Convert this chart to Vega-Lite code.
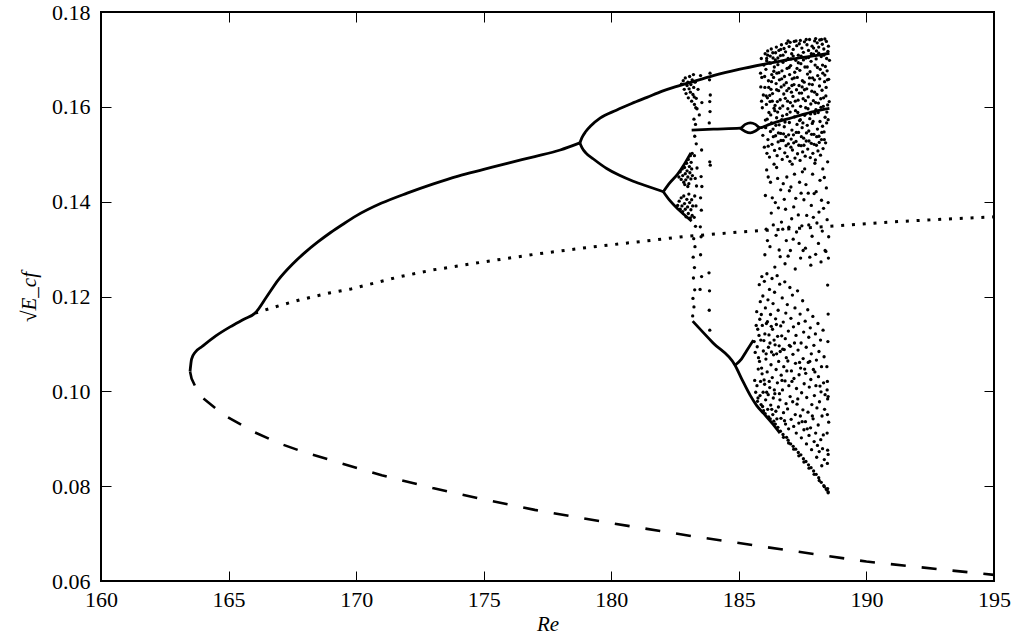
{
"$schema": "https://vega.github.io/schema/vega-lite/v6.json",
"width": 893, "height": 569,
"autosize": "none",
"padding": {"left": 101, "top": 12, "right": 19, "bottom": 55},
"background": "white",
"config": {
 "view": {"stroke": "black", "strokeWidth": 2},
 "axis": {"domain": false, "grid": false, "labelFont": "Liberation Serif", "labelFontSize": 22, "labelColor": "black", "tickColor": "black", "tickWidth": 1, "titleFont": "Liberation Serif", "titleFontSize": 21, "titleColor": "black", "titleFontWeight": "normal", "labelFlush": false, "labelOverlap": false}
},
"datasets": {
"lines": [
{"s":"dash","x":163.49,"y":0.1042},{"s":"dash","x":163.55,"y":0.1027},{"s":"dash","x":163.85,"y":0.0992},{"s":"dash","x":164.82,"y":0.0950},{"s":"dash","x":165.97,"y":0.0915},{"s":"dash","x":167,"y":0.0890},{"s":"dash","x":168,"y":0.0871},{"s":"dash","x":169.43,"y":0.0848},{"s":"dash","x":171,"y":0.0823},{"s":"dash","x":173,"y":0.0796},{"s":"dash","x":175,"y":0.0772},{"s":"dash","x":177,"y":0.0750},{"s":"dash","x":180,"y":0.0722},{"s":"dash","x":183,"y":0.0696},{"s":"dash","x":186,"y":0.0672},{"s":"dash","x":190,"y":0.0641},{"s":"dash","x":193,"y":0.0624},{"s":"dash","x":195,"y":0.0613},
{"s":"dot","x":166.04,"y":0.1165},{"s":"dot","x":167,"y":0.1181},{"s":"dot","x":167.8,"y":0.1193},{"s":"dot","x":169,"y":0.1208},{"s":"dot","x":169.8,"y":0.1216},{"s":"dot","x":171.72,"y":0.1242},{"s":"dot","x":173,"y":0.1256},{"s":"dot","x":175,"y":0.1273},{"s":"dot","x":177,"y":0.1289},{"s":"dot","x":179,"y":0.1303},{"s":"dot","x":181,"y":0.1315},{"s":"dot","x":182.8,"y":0.1326},{"s":"dot","x":185,"y":0.1336},{"s":"dot","x":188.3,"y":0.1347},{"s":"dot","x":191.24,"y":0.1358},{"s":"dot","x":193,"y":0.1363},{"s":"dot","x":195,"y":0.1368},
{"s":"main","x":163.49,"y":0.1042},{"s":"main","x":163.55,"y":0.1068},{"s":"main","x":163.7,"y":0.1083},{"s":"main","x":163.95,"y":0.1094},{"s":"main","x":164.5,"y":0.1117},{"s":"main","x":165.06,"y":0.1136},{"s":"main","x":165.6,"y":0.1152},{"s":"main","x":166.04,"y":0.1165},{"s":"main","x":166.5,"y":0.1200},{"s":"main","x":166.95,"y":0.1235},{"s":"main","x":167.5,"y":0.1268},{"s":"main","x":168,"y":0.1293},{"s":"main","x":168.5,"y":0.1315},{"s":"main","x":169,"y":0.1335},{"s":"main","x":169.5,"y":0.1353},{"s":"main","x":170,"y":0.1370},{"s":"main","x":171,"y":0.1397},{"s":"main","x":172,"y":0.1418},{"s":"main","x":173,"y":0.1437},{"s":"main","x":174,"y":0.1454},{"s":"main","x":175,"y":0.1468},{"s":"main","x":176,"y":0.1482},{"s":"main","x":177,"y":0.1495},{"s":"main","x":178,"y":0.1509},{"s":"main","x":178.77,"y":0.1524},
{"s":"A","x":178.77,"y":0.1524},{"s":"A","x":178.85,"y":0.1535},{"s":"A","x":179.0,"y":0.1548},{"s":"A","x":179.2,"y":0.1560},{"s":"A","x":179.56,"y":0.1576},{"s":"A","x":180.2,"y":0.1593},{"s":"A","x":180.8,"y":0.1607},{"s":"A","x":181.4,"y":0.1620},{"s":"A","x":182,"y":0.1633},{"s":"A","x":182.5,"y":0.1642},{"s":"A","x":183,"y":0.1650},{"s":"A","x":184,"y":0.1666},{"s":"A","x":185,"y":0.1679},{"s":"A","x":186,"y":0.1690},{"s":"A","x":187,"y":0.1700},{"s":"A","x":188,"y":0.1708},{"s":"A","x":188.55,"y":0.1713},
{"s":"B","x":178.77,"y":0.1524},{"s":"B","x":178.85,"y":0.1514},{"s":"B","x":179.0,"y":0.1503},{"s":"B","x":179.3,"y":0.1490},{"s":"B","x":179.82,"y":0.1470},{"s":"B","x":180.3,"y":0.1456},{"s":"B","x":180.86,"y":0.1443},{"s":"B","x":181.5,"y":0.1431},{"s":"B","x":182.04,"y":0.1421},
{"s":"B1","x":182.04,"y":0.1421},{"s":"B1","x":182.3,"y":0.1440},{"s":"B1","x":182.6,"y":0.1458},{"s":"B1","x":182.85,"y":0.1478},{"s":"B1","x":183.12,"y":0.1503},
{"s":"B2","x":182.04,"y":0.1421},{"s":"B2","x":182.3,"y":0.1402},{"s":"B2","x":182.6,"y":0.1385},{"s":"B2","x":182.85,"y":0.1373},{"s":"B2","x":183.15,"y":0.1359},
{"s":"C","x":183.15,"y":0.1551},{"s":"C","x":184,"y":0.1553},{"s":"C","x":185.05,"y":0.1555},{"s":"C","x":185.25,"y":0.1563},{"s":"C","x":185.45,"y":0.1566},{"s":"C","x":185.65,"y":0.1563},{"s":"C","x":185.83,"y":0.1556},{"s":"C","x":186.2,"y":0.1563},{"s":"C","x":186.8,"y":0.1573},{"s":"C","x":187.4,"y":0.1582},{"s":"C","x":188,"y":0.1591},{"s":"C","x":188.55,"y":0.1597},
{"s":"C2","x":185.05,"y":0.1555},{"s":"C2","x":185.25,"y":0.1548},{"s":"C2","x":185.45,"y":0.1545},{"s":"C2","x":185.65,"y":0.1549},{"s":"C2","x":185.83,"y":0.1556},
{"s":"D","x":183.19,"y":0.1148},{"s":"D","x":183.99,"y":0.1102},{"s":"D","x":184.85,"y":0.1055},{"s":"D","x":185.15,"y":0.1022},{"s":"D","x":185.44,"y":0.0992},{"s":"D","x":185.7,"y":0.0970},{"s":"D","x":185.96,"y":0.0954},{"s":"D","x":186.3,"y":0.0933},{"s":"D","x":186.61,"y":0.0912},
{"s":"D1","x":184.85,"y":0.1055},{"s":"D1","x":185.1,"y":0.1068},{"s":"D1","x":185.3,"y":0.1085},{"s":"D1","x":185.57,"y":0.1108}
],
"pts": [
{"x":185.92,"y":0.1598},{"x":185.96,"y":0.1625},{"x":185.9,"y":0.1662},{"x":185.98,"y":0.1688},{"x":185.94,"y":0.1540},
{"x":185.85,"y":0.1671},{"x":185.88,"y":0.1702},{"x":185.86,"y":0.1642},{"x":185.89,"y":0.1612},
{"x":186.0,"y":0.1515},{"x":186.04,"y":0.1572},{"x":186.08,"y":0.1605},{"x":186.02,"y":0.1641},{"x":186.06,"y":0.1679},{"x":186.09,"y":0.1702},{"x":186.03,"y":0.1712},
{"x":186.1,"y":0.1502},{"x":186.14,"y":0.1531},{"x":186.18,"y":0.1588},{"x":186.12,"y":0.1619},{"x":186.16,"y":0.1655},{"x":186.19,"y":0.1693},{"x":186.13,"y":0.1718},
{"x":186.2,"y":0.1494},{"x":186.24,"y":0.1548},{"x":186.28,"y":0.1566},{"x":186.22,"y":0.1611},{"x":186.26,"y":0.1637},{"x":186.29,"y":0.1668},{"x":186.23,"y":0.1707},{"x":186.27,"y":0.1722},
{"x":186.3,"y":0.1521},{"x":186.34,"y":0.1553},{"x":186.38,"y":0.1597},{"x":186.32,"y":0.1628},{"x":186.36,"y":0.1662},{"x":186.39,"y":0.1684},{"x":186.33,"y":0.1714},
{"x":186.4,"y":0.1508},{"x":186.44,"y":0.1539},{"x":186.48,"y":0.1577},{"x":186.42,"y":0.1603},{"x":186.46,"y":0.1649},{"x":186.49,"y":0.1671},{"x":186.43,"y":0.1699},{"x":186.47,"y":0.1726},
{"x":186.5,"y":0.1497},{"x":186.54,"y":0.1526},{"x":186.58,"y":0.1562},{"x":186.52,"y":0.1589},{"x":186.56,"y":0.1634},{"x":186.59,"y":0.1657},{"x":186.53,"y":0.1689},{"x":186.57,"y":0.1719},
{"x":186.6,"y":0.1512},{"x":186.64,"y":0.1544},{"x":186.68,"y":0.1573},{"x":186.62,"y":0.1615},{"x":186.66,"y":0.1642},{"x":186.69,"y":0.1676},{"x":186.63,"y":0.1708},{"x":186.67,"y":0.1731},
{"x":186.7,"y":0.1489},{"x":186.74,"y":0.1529},{"x":186.78,"y":0.1558},{"x":186.72,"y":0.1602},{"x":186.76,"y":0.1627},{"x":186.79,"y":0.1664},{"x":186.73,"y":0.1694},{"x":186.77,"y":0.1723},
{"x":186.8,"y":0.1503},{"x":186.84,"y":0.1537},{"x":186.88,"y":0.1584},{"x":186.82,"y":0.1618},{"x":186.86,"y":0.1651},{"x":186.89,"y":0.1681},{"x":186.83,"y":0.1716},{"x":186.87,"y":0.1734},
{"x":186.9,"y":0.1495},{"x":186.94,"y":0.1522},{"x":186.98,"y":0.1567},{"x":186.92,"y":0.1596},{"x":186.96,"y":0.1639},{"x":186.99,"y":0.1668},{"x":186.93,"y":0.1702},{"x":186.97,"y":0.1727},
{"x":187.0,"y":0.1485},{"x":187.04,"y":0.1515},{"x":187.08,"y":0.1551},{"x":187.02,"y":0.1609},{"x":187.06,"y":0.1631},{"x":187.09,"y":0.1659},{"x":187.03,"y":0.1687},{"x":187.07,"y":0.1712},{"x":187.01,"y":0.1736},
{"x":187.1,"y":0.1509},{"x":187.14,"y":0.1541},{"x":187.18,"y":0.1579},{"x":187.12,"y":0.1622},{"x":187.16,"y":0.1647},{"x":187.19,"y":0.1673},{"x":187.13,"y":0.1721},{"x":187.17,"y":0.1738},
{"x":187.2,"y":0.1492},{"x":187.24,"y":0.1527},{"x":187.28,"y":0.1563},{"x":187.22,"y":0.1592},{"x":187.26,"y":0.1636},{"x":187.29,"y":0.1662},{"x":187.23,"y":0.1698},{"x":187.27,"y":0.1729},
{"x":187.3,"y":0.1501},{"x":187.34,"y":0.1546},{"x":187.38,"y":0.1571},{"x":187.32,"y":0.1614},{"x":187.36,"y":0.1645},{"x":187.39,"y":0.1677},{"x":187.33,"y":0.1709},{"x":187.37,"y":0.1733},
{"x":187.4,"y":0.1487},{"x":187.44,"y":0.1518},{"x":187.48,"y":0.1556},{"x":187.42,"y":0.1601},{"x":187.46,"y":0.1629},{"x":187.49,"y":0.1655},{"x":187.43,"y":0.1691},{"x":187.47,"y":0.1724},{"x":187.41,"y":0.1740},
{"x":187.5,"y":0.1505},{"x":187.54,"y":0.1534},{"x":187.58,"y":0.1582},{"x":187.52,"y":0.1617},{"x":187.56,"y":0.1652},{"x":187.59,"y":0.1684},{"x":187.53,"y":0.1715},{"x":187.57,"y":0.1737},
{"x":187.6,"y":0.1496},{"x":187.64,"y":0.1528},{"x":187.68,"y":0.1561},{"x":187.62,"y":0.1598},{"x":187.66,"y":0.1638},{"x":187.69,"y":0.1669},{"x":187.63,"y":0.1703},{"x":187.67,"y":0.1731},
{"x":187.7,"y":0.1511},{"x":187.74,"y":0.1549},{"x":187.78,"y":0.1575},{"x":187.72,"y":0.1621},{"x":187.76,"y":0.1648},{"x":187.79,"y":0.1674},{"x":187.73,"y":0.1719},{"x":187.77,"y":0.1742},
{"x":187.8,"y":0.1493},{"x":187.84,"y":0.1523},{"x":187.88,"y":0.1565},{"x":187.82,"y":0.1606},{"x":187.86,"y":0.1633},{"x":187.89,"y":0.1661},{"x":187.83,"y":0.1696},{"x":187.87,"y":0.1728},
{"x":187.9,"y":0.1502},{"x":187.94,"y":0.1542},{"x":187.98,"y":0.1586},{"x":187.92,"y":0.1613},{"x":187.96,"y":0.1657},{"x":187.99,"y":0.1688},{"x":187.93,"y":0.1711},{"x":187.97,"y":0.1739},
{"x":188.0,"y":0.1488},{"x":188.04,"y":0.1519},{"x":188.08,"y":0.1553},{"x":188.02,"y":0.1594},{"x":188.06,"y":0.1626},{"x":188.09,"y":0.1666},{"x":188.03,"y":0.1701},{"x":188.07,"y":0.1735},{"x":188.01,"y":0.1744},
{"x":188.1,"y":0.1507},{"x":188.14,"y":0.1538},{"x":188.18,"y":0.1569},{"x":188.12,"y":0.1608},{"x":188.16,"y":0.1644},{"x":188.19,"y":0.1679},{"x":188.13,"y":0.1713},{"x":188.17,"y":0.1741},
{"x":188.2,"y":0.1498},{"x":188.24,"y":0.1531},{"x":188.28,"y":0.1559},{"x":188.22,"y":0.1599},{"x":188.26,"y":0.1635},{"x":188.29,"y":0.1671},{"x":188.23,"y":0.1706},{"x":188.27,"y":0.1732},
{"x":188.3,"y":0.1512},{"x":188.34,"y":0.1547},{"x":188.38,"y":0.1578},{"x":188.32,"y":0.1619},{"x":188.36,"y":0.1653},{"x":188.39,"y":0.1685},{"x":188.33,"y":0.1722},{"x":188.37,"y":0.1743},
{"x":188.4,"y":0.1524},{"x":188.44,"y":0.1566},{"x":188.48,"y":0.1604},{"x":188.42,"y":0.1641},{"x":188.46,"y":0.1676},{"x":188.49,"y":0.1717},{"x":188.43,"y":0.1738},
{"x":188.5,"y":0.1573},{"x":188.54,"y":0.1611},{"x":188.52,"y":0.1658},{"x":188.55,"y":0.1698},{"x":188.51,"y":0.1728},
{"x":186.05,"y":0.1556},{"x":186.07,"y":0.1623},{"x":186.01,"y":0.1664},{"x":186.09,"y":0.1697},
{"x":186.15,"y":0.1517},{"x":186.11,"y":0.1574},{"x":186.17,"y":0.1641},{"x":186.13,"y":0.1709},
{"x":186.25,"y":0.1583},{"x":186.21,"y":0.1624},{"x":186.28,"y":0.1653},{"x":186.24,"y":0.1692},
{"x":186.35,"y":0.1537},{"x":186.31,"y":0.1612},{"x":186.37,"y":0.1675},{"x":186.34,"y":0.1703},
{"x":186.45,"y":0.1561},{"x":186.41,"y":0.1592},{"x":186.48,"y":0.1636},{"x":186.44,"y":0.1714},
{"x":186.55,"y":0.1545},{"x":186.51,"y":0.1611},{"x":186.57,"y":0.1672},{"x":186.53,"y":0.1703},
{"x":186.65,"y":0.1529},{"x":186.61,"y":0.1597},{"x":186.68,"y":0.1659},{"x":186.64,"y":0.1721},
{"x":186.75,"y":0.1543},{"x":186.71,"y":0.1581},{"x":186.77,"y":0.1646},{"x":186.73,"y":0.1709},
{"x":186.85,"y":0.1518},{"x":186.81,"y":0.1568},{"x":186.88,"y":0.1634},{"x":186.84,"y":0.1698},
{"x":186.95,"y":0.1541},{"x":186.91,"y":0.1612},{"x":186.97,"y":0.1683},{"x":186.93,"y":0.1739},
{"x":187.05,"y":0.1532},{"x":187.01,"y":0.1589},{"x":187.08,"y":0.1645},{"x":187.04,"y":0.1701},
{"x":187.15,"y":0.1524},{"x":187.11,"y":0.1602},{"x":187.17,"y":0.1661},{"x":187.13,"y":0.1707},
{"x":187.25,"y":0.1546},{"x":187.21,"y":0.1612},{"x":187.28,"y":0.1681},{"x":187.24,"y":0.1739},
{"x":187.35,"y":0.1519},{"x":187.31,"y":0.1588},{"x":187.37,"y":0.1629},{"x":187.33,"y":0.1693},
{"x":187.45,"y":0.1537},{"x":187.41,"y":0.1573},{"x":187.48,"y":0.1642},{"x":187.44,"y":0.1707},
{"x":187.55,"y":0.1519},{"x":187.51,"y":0.1566},{"x":187.57,"y":0.1636},{"x":187.53,"y":0.1699},
{"x":187.65,"y":0.1545},{"x":187.61,"y":0.1613},{"x":187.68,"y":0.1684},{"x":187.64,"y":0.1742},
{"x":187.75,"y":0.1528},{"x":187.71,"y":0.1596},{"x":187.77,"y":0.1661},{"x":187.73,"y":0.1704},
{"x":187.85,"y":0.1542},{"x":187.81,"y":0.1585},{"x":187.88,"y":0.1647},{"x":187.84,"y":0.1712},
{"x":187.95,"y":0.1521},{"x":187.91,"y":0.1569},{"x":187.97,"y":0.1631},{"x":187.93,"y":0.1724},
{"x":188.05,"y":0.1537},{"x":188.01,"y":0.1609},{"x":188.08,"y":0.1683},{"x":188.04,"y":0.1718},
{"x":188.15,"y":0.1525},{"x":188.11,"y":0.1588},{"x":188.17,"y":0.1659},{"x":188.13,"y":0.1726},
{"x":188.25,"y":0.1546},{"x":188.21,"y":0.1617},{"x":188.28,"y":0.1688},{"x":188.24,"y":0.1742},
{"x":188.35,"y":0.1531},{"x":188.31,"y":0.1601},{"x":188.37,"y":0.1667},{"x":188.33,"y":0.1709},
{"x":188.45,"y":0.1589},{"x":188.41,"y":0.1623},{"x":188.47,"y":0.1657},{"x":188.44,"y":0.1702},
{"x":186.02,"y":0.1288},{"x":186.07,"y":0.1342},{"x":186.04,"y":0.1413},{"x":186.09,"y":0.1467},
{"x":186.22,"y":0.1305},{"x":186.27,"y":0.1376},{"x":186.24,"y":0.1441},
{"x":186.41,"y":0.1262},{"x":186.46,"y":0.1329},{"x":186.43,"y":0.1398},{"x":186.48,"y":0.1472},
{"x":186.62,"y":0.1284},{"x":186.67,"y":0.1357},{"x":186.64,"y":0.1425},
{"x":186.81,"y":0.1269},{"x":186.86,"y":0.1318},{"x":186.83,"y":0.1384},{"x":186.88,"y":0.1452},
{"x":187.02,"y":0.1297},{"x":187.07,"y":0.1364},{"x":187.04,"y":0.1431},{"x":187.09,"y":0.1479},
{"x":187.21,"y":0.1258},{"x":187.26,"y":0.1336},{"x":187.23,"y":0.1407},
{"x":187.42,"y":0.1281},{"x":187.47,"y":0.1349},{"x":187.44,"y":0.1418},{"x":187.49,"y":0.1463},
{"x":187.61,"y":0.1302},{"x":187.66,"y":0.1371},{"x":187.63,"y":0.1436},
{"x":187.82,"y":0.1266},{"x":187.87,"y":0.1327},{"x":187.84,"y":0.1392},{"x":187.89,"y":0.1458},
{"x":188.01,"y":0.1289},{"x":188.06,"y":0.1355},{"x":188.03,"y":0.1421},
{"x":188.22,"y":0.1273},{"x":188.27,"y":0.1338},{"x":188.24,"y":0.1403},{"x":188.29,"y":0.1469},
{"x":188.41,"y":0.1295},{"x":188.46,"y":0.1362},{"x":188.43,"y":0.1429},{"x":188.48,"y":0.1484},
{"x":186.31,"y":0.1408},{"x":186.55,"y":0.1387},{"x":186.74,"y":0.1438},{"x":186.96,"y":0.1346},{"x":187.15,"y":0.1389},{"x":187.36,"y":0.1312},{"x":187.55,"y":0.1404},{"x":187.74,"y":0.1351},{"x":187.95,"y":0.1417},{"x":188.14,"y":0.1378},{"x":188.35,"y":0.1451},{"x":188.52,"y":0.1326},{"x":188.5,"y":0.1398},
{"x":186.12,"y":0.1318},{"x":186.15,"y":0.1452},{"x":186.35,"y":0.1351},{"x":186.38,"y":0.1479},{"x":186.58,"y":0.1298},{"x":186.52,"y":0.1449},{"x":186.72,"y":0.1342},{"x":186.78,"y":0.1405},{"x":186.93,"y":0.1285},{"x":186.98,"y":0.1423},{"x":187.13,"y":0.1321},{"x":187.18,"y":0.1458},{"x":187.33,"y":0.1372},{"x":187.38,"y":0.1441},{"x":187.52,"y":0.1297},{"x":187.58,"y":0.1469},{"x":187.72,"y":0.1418},{"x":187.78,"y":0.1283},{"x":187.92,"y":0.1367},{"x":187.98,"y":0.1481},{"x":188.12,"y":0.1312},{"x":188.18,"y":0.1445},{"x":188.32,"y":0.1386},{"x":188.38,"y":0.1297},
{"x":185.6,"y":0.1105},{"x":185.64,"y":0.1082},{"x":185.62,"y":0.1023},{"x":185.66,"y":0.0998},
{"x":185.7,"y":0.1168},{"x":185.74,"y":0.1131},{"x":185.72,"y":0.1094},{"x":185.76,"y":0.1047},{"x":185.71,"y":0.1012},{"x":185.75,"y":0.0986},{"x":185.73,"y":0.0979},
{"x":185.8,"y":0.1225},{"x":185.84,"y":0.1189},{"x":185.82,"y":0.1152},{"x":185.86,"y":0.1108},{"x":185.81,"y":0.1063},{"x":185.85,"y":0.1021},{"x":185.83,"y":0.0991},{"x":185.87,"y":0.0972},
{"x":185.9,"y":0.1242},{"x":185.94,"y":0.1201},{"x":185.92,"y":0.1139},{"x":185.96,"y":0.1085},{"x":185.91,"y":0.1037},{"x":185.95,"y":0.0998},{"x":185.93,"y":0.0968},{"x":185.97,"y":0.0959},
{"x":186.0,"y":0.1232},{"x":186.04,"y":0.1176},{"x":186.02,"y":0.1121},{"x":186.06,"y":0.1068},{"x":186.01,"y":0.1015},{"x":186.05,"y":0.0982},{"x":186.03,"y":0.0953},
{"x":186.1,"y":0.1248},{"x":186.14,"y":0.1193},{"x":186.12,"y":0.1147},{"x":186.16,"y":0.1093},{"x":186.11,"y":0.1041},{"x":186.15,"y":0.0993},{"x":186.13,"y":0.0962},{"x":186.17,"y":0.0946},
{"x":186.2,"y":0.1215},{"x":186.24,"y":0.1162},{"x":186.22,"y":0.1102},{"x":186.26,"y":0.1056},{"x":186.21,"y":0.1008},{"x":186.25,"y":0.0971},{"x":186.23,"y":0.0942},
{"x":186.3,"y":0.1238},{"x":186.34,"y":0.1185},{"x":186.32,"y":0.1131},{"x":186.36,"y":0.1077},{"x":186.31,"y":0.1029},{"x":186.35,"y":0.0986},{"x":186.33,"y":0.0951},{"x":186.37,"y":0.0937},
{"x":186.4,"y":0.1209},{"x":186.44,"y":0.1153},{"x":186.42,"y":0.1098},{"x":186.46,"y":0.1046},{"x":186.41,"y":0.0995},{"x":186.45,"y":0.0958},{"x":186.43,"y":0.0931},
{"x":186.5,"y":0.1244},{"x":186.54,"y":0.1171},{"x":186.52,"y":0.1116},{"x":186.56,"y":0.1063},{"x":186.51,"y":0.1018},{"x":186.55,"y":0.0967},{"x":186.53,"y":0.0924},
{"x":186.6,"y":0.1226},{"x":186.64,"y":0.1138},{"x":186.62,"y":0.1084},{"x":186.66,"y":0.1034},{"x":186.61,"y":0.0982},{"x":186.65,"y":0.0943},{"x":186.63,"y":0.0916},
{"x":186.7,"y":0.1197},{"x":186.74,"y":0.1146},{"x":186.72,"y":0.1089},{"x":186.76,"y":0.1052},{"x":186.71,"y":0.1003},{"x":186.75,"y":0.0955},{"x":186.73,"y":0.0909},
{"x":186.8,"y":0.1231},{"x":186.84,"y":0.1165},{"x":186.82,"y":0.1111},{"x":186.86,"y":0.1071},{"x":186.81,"y":0.1022},{"x":186.85,"y":0.0974},{"x":186.83,"y":0.0931},{"x":186.87,"y":0.0903},
{"x":186.9,"y":0.1183},{"x":186.94,"y":0.1127},{"x":186.92,"y":0.1064},{"x":186.96,"y":0.1012},{"x":186.91,"y":0.0963},{"x":186.95,"y":0.0921},{"x":186.93,"y":0.0897},
{"x":187.0,"y":0.1219},{"x":187.04,"y":0.1154},{"x":187.02,"y":0.1095},{"x":187.06,"y":0.1043},{"x":187.01,"y":0.0989},{"x":187.05,"y":0.0941},{"x":187.03,"y":0.0889},
{"x":187.1,"y":0.1203},{"x":187.14,"y":0.1136},{"x":187.12,"y":0.1078},{"x":187.16,"y":0.1027},{"x":187.11,"y":0.0978},{"x":187.15,"y":0.0926},{"x":187.13,"y":0.0884},
{"x":187.2,"y":0.1176},{"x":187.24,"y":0.1118},{"x":187.22,"y":0.1059},{"x":187.26,"y":0.1006},{"x":187.21,"y":0.0951},{"x":187.25,"y":0.0912},{"x":187.23,"y":0.0878},
{"x":187.3,"y":0.1212},{"x":187.34,"y":0.1143},{"x":187.32,"y":0.1087},{"x":187.36,"y":0.1035},{"x":187.31,"y":0.0984},{"x":187.35,"y":0.0933},{"x":187.33,"y":0.0871},
{"x":187.4,"y":0.1163},{"x":187.44,"y":0.1102},{"x":187.42,"y":0.1049},{"x":187.46,"y":0.0997},{"x":187.41,"y":0.0948},{"x":187.45,"y":0.0902},{"x":187.43,"y":0.0866},
{"x":187.5,"y":0.1191},{"x":187.54,"y":0.1125},{"x":187.52,"y":0.1069},{"x":187.56,"y":0.1016},{"x":187.51,"y":0.0961},{"x":187.55,"y":0.0919},{"x":187.53,"y":0.0858},
{"x":187.6,"y":0.1148},{"x":187.64,"y":0.1093},{"x":187.62,"y":0.1038},{"x":187.66,"y":0.0987},{"x":187.61,"y":0.0936},{"x":187.65,"y":0.0889},{"x":187.63,"y":0.0852},
{"x":187.7,"y":0.1172},{"x":187.74,"y":0.1114},{"x":187.72,"y":0.1061},{"x":187.76,"y":0.1009},{"x":187.71,"y":0.0956},{"x":187.75,"y":0.0907},{"x":187.73,"y":0.0845},
{"x":187.8,"y":0.1134},{"x":187.84,"y":0.1079},{"x":187.82,"y":0.1025},{"x":187.86,"y":0.0972},{"x":187.81,"y":0.0923},{"x":187.85,"y":0.0877},{"x":187.83,"y":0.0839},
{"x":187.9,"y":0.1158},{"x":187.94,"y":0.1097},{"x":187.92,"y":0.1046},{"x":187.96,"y":0.0991},{"x":187.91,"y":0.0942},{"x":187.95,"y":0.0894},{"x":187.93,"y":0.0832},
{"x":188.0,"y":0.1121},{"x":188.04,"y":0.1066},{"x":188.02,"y":0.1012},{"x":188.06,"y":0.0965},{"x":188.01,"y":0.0912},{"x":188.05,"y":0.0861},{"x":188.03,"y":0.0825},
{"x":188.1,"y":0.1143},{"x":188.14,"y":0.1084},{"x":188.12,"y":0.1031},{"x":188.16,"y":0.0978},{"x":188.11,"y":0.0929},{"x":188.15,"y":0.0873},{"x":188.13,"y":0.0818},
{"x":188.2,"y":0.1108},{"x":188.24,"y":0.1052},{"x":188.22,"y":0.0999},{"x":188.26,"y":0.0948},{"x":188.21,"y":0.0898},{"x":188.25,"y":0.0843},{"x":188.23,"y":0.0808},
{"x":188.3,"y":0.1129},{"x":188.34,"y":0.1073},{"x":188.32,"y":0.1018},{"x":188.36,"y":0.0962},{"x":188.31,"y":0.0908},{"x":188.35,"y":0.0856},{"x":188.33,"y":0.0801},
{"x":188.45,"y":0.1052},{"x":188.47,"y":0.1021},{"x":188.46,"y":0.1003},{"x":188.48,"y":0.0984},{"x":188.47,"y":0.0951},{"x":188.46,"y":0.0912},{"x":188.48,"y":0.0876},{"x":188.47,"y":0.0848},{"x":188.42,"y":0.0794},
{"x":188.5,"y":0.0989},{"x":188.52,"y":0.0935},{"x":188.5,"y":0.0867},{"x":188.5,"y":0.0788},
{"x":186.75,"y":0.0903},{"x":186.95,"y":0.0891},{"x":187.15,"y":0.0878},{"x":187.35,"y":0.0864},{"x":187.55,"y":0.0851},{"x":187.75,"y":0.0838},{"x":187.95,"y":0.0825},{"x":188.15,"y":0.0812},{"x":188.35,"y":0.0799},{"x":188.45,"y":0.0792},{"x":188.48,"y":0.0795},{"x":188.5,"y":0.0786},
{"x":188.49,"y":0.1105},{"x":188.5,"y":0.1163},{"x":188.48,"y":0.1224},{"x":188.51,"y":0.1281},
{"x":185.68,"y":0.1139},{"x":185.77,"y":0.1071},{"x":185.79,"y":0.1118},{"x":185.88,"y":0.1162},{"x":185.89,"y":0.1049},{"x":185.98,"y":0.1107},{"x":185.99,"y":0.1024},{"x":186.08,"y":0.1143},{"x":186.09,"y":0.0998},{"x":186.07,"y":0.1079},{"x":186.18,"y":0.1119},{"x":186.19,"y":0.1021},{"x":186.28,"y":0.1083},{"x":186.29,"y":0.0962},{"x":186.27,"y":0.1137},{"x":186.38,"y":0.1108},{"x":186.39,"y":0.1003},{"x":186.48,"y":0.1079},{"x":186.49,"y":0.0942},{"x":186.47,"y":0.1141},{"x":186.58,"y":0.1096},{"x":186.59,"y":0.0995},{"x":186.68,"y":0.1117},{"x":186.69,"y":0.1023},{"x":186.78,"y":0.1088},{"x":186.79,"y":0.0938},{"x":186.88,"y":0.1043},{"x":186.98,"y":0.1097},{"x":187.08,"y":0.1021},{"x":187.18,"y":0.1102},{"x":187.28,"y":0.0973},{"x":187.38,"y":0.1061},{"x":187.48,"y":0.0936},{"x":187.58,"y":0.1047},{"x":187.68,"y":0.0921},{"x":187.78,"y":0.1063},{"x":187.88,"y":0.0948},{"x":187.98,"y":0.1041},{"x":188.08,"y":0.0886},{"x":188.18,"y":0.1011},{"x":188.28,"y":0.0879},{"x":188.38,"y":0.0993},
{"x":183.22,"y":0.1668},{"x":183.28,"y":0.1652},{"x":183.25,"y":0.1621},{"x":183.31,"y":0.1598},{"x":183.24,"y":0.1574},{"x":183.3,"y":0.1563},{"x":183.27,"y":0.1538},{"x":183.33,"y":0.1522},{"x":183.26,"y":0.1497},{"x":183.36,"y":0.1471},{"x":183.29,"y":0.1449},{"x":183.34,"y":0.1433},{"x":183.27,"y":0.1412},{"x":183.32,"y":0.1391},{"x":183.25,"y":0.1367},{"x":183.3,"y":0.1348},{"x":183.23,"y":0.1322},{"x":183.28,"y":0.1305},{"x":183.21,"y":0.1283},{"x":183.26,"y":0.1261},{"x":183.22,"y":0.1239},{"x":183.27,"y":0.1214},{"x":183.2,"y":0.1196},{"x":183.24,"y":0.1178},{"x":183.19,"y":0.1159},
{"x":183.54,"y":0.1509},{"x":183.52,"y":0.1453},{"x":183.55,"y":0.1432},{"x":183.5,"y":0.1408},{"x":183.53,"y":0.1382},{"x":183.49,"y":0.1347},{"x":183.52,"y":0.1326},{"x":183.5,"y":0.1288},{"x":183.54,"y":0.1242},{"x":183.48,"y":0.1215},
{"x":183.87,"y":0.1671},{"x":183.85,"y":0.1657},{"x":183.88,"y":0.1625},{"x":183.86,"y":0.1611},{"x":183.87,"y":0.159},{"x":183.84,"y":0.1566},{"x":183.86,"y":0.1484},{"x":183.88,"y":0.1477},{"x":183.83,"y":0.125},{"x":183.85,"y":0.1212},{"x":183.84,"y":0.1171},{"x":183.86,"y":0.1129},
{"x":182.75,"y":0.1648},{"x":182.82,"y":0.1655},{"x":182.86,"y":0.1637},{"x":182.9,"y":0.1661},{"x":182.93,"y":0.1628},{"x":182.97,"y":0.1645},{"x":183.0,"y":0.1652},{"x":183.02,"y":0.1619},{"x":183.05,"y":0.1638},{"x":183.07,"y":0.1664},{"x":183.1,"y":0.1631},{"x":183.12,"y":0.1647},{"x":183.15,"y":0.1612},{"x":183.17,"y":0.1657},{"x":183.2,"y":0.1626},{"x":183.23,"y":0.1641},{"x":183.26,"y":0.1605},{"x":183.3,"y":0.1653},{"x":183.33,"y":0.1618},{"x":183.36,"y":0.1596},{"x":183.4,"y":0.1637},{"x":183.45,"y":0.1583},{"x":183.5,"y":0.1666},{"x":183.55,"y":0.1609},
{"x":182.65,"y":0.1452},{"x":182.7,"y":0.1463},{"x":182.74,"y":0.1447},{"x":182.78,"y":0.1469},{"x":182.8,"y":0.1455},{"x":182.84,"y":0.1441},{"x":182.87,"y":0.1472},{"x":182.9,"y":0.1459},{"x":182.92,"y":0.1446},{"x":182.95,"y":0.1481},{"x":182.97,"y":0.1465},{"x":183.0,"y":0.1452},{"x":183.02,"y":0.1489},{"x":183.04,"y":0.1438},{"x":183.06,"y":0.1474},{"x":183.08,"y":0.1461},{"x":183.1,"y":0.1497},{"x":183.12,"y":0.1448},{"x":183.13,"y":0.1483},{"x":183.15,"y":0.1469},{"x":183.17,"y":0.1502},{"x":183.18,"y":0.1455},{"x":182.88,"y":0.1436},{"x":183.0,"y":0.1432},
{"x":182.6,"y":0.1392},{"x":182.66,"y":0.1401},{"x":182.7,"y":0.1384},{"x":182.74,"y":0.1408},{"x":182.77,"y":0.1391},{"x":182.8,"y":0.1379},{"x":182.84,"y":0.1412},{"x":182.87,"y":0.1396},{"x":182.9,"y":0.1384},{"x":182.93,"y":0.1368},{"x":182.96,"y":0.1405},{"x":182.99,"y":0.1389},{"x":183.02,"y":0.1375},{"x":183.04,"y":0.1416},{"x":183.07,"y":0.1398},{"x":183.1,"y":0.1366},{"x":183.12,"y":0.1383},{"x":183.15,"y":0.1404},{"x":183.17,"y":0.1371},{"x":183.19,"y":0.1391}
]
},
"layer": [
 {"data": {"name": "lines"}, "transform": [{"filter": "datum.s === 'dash'"}],
  "mark": {"type": "line", "color": "black", "strokeWidth": 2.6, "strokeDash": [15, 16]},
  "encoding": {
   "x": {"field": "x", "type": "quantitative", "scale": {"domain": [160, 195], "nice": false, "zero": false},
    "axis": {"orient": "bottom", "values": [160, 165, 170, 175, 180, 185, 190, 195], "format": "d", "title": "Re", "titleFontStyle": "italic", "tickSize": -10, "labelPadding": 18, "titlePadding": 3}},
   "y": {"field": "y", "type": "quantitative", "scale": {"domain": [0.06, 0.18], "nice": false, "zero": false},
    "axis": {"orient": "left", "values": [0.06, 0.08, 0.1, 0.12, 0.14, 0.16, 0.18], "format": ".2f", "title": "√E_cf", "titleFontStyle": "italic", "tickSize": -10, "labelPadding": 21, "titlePadding": 12}}
  }},
 {"data": {"name": "lines"}, "transform": [{"filter": "datum.s === 'dot'"}],
  "mark": {"type": "line", "color": "black", "strokeWidth": 3, "strokeDash": [3, 7.8]},
  "encoding": {
   "x": {"field": "x", "type": "quantitative", "scale": {"domain": [160, 195], "nice": false, "zero": false},
    "axis": {"orient": "top", "values": [160, 165, 170, 175, 180, 185, 190, 195], "labels": false, "title": null, "tickSize": -10}},
   "y": {"field": "y", "type": "quantitative", "scale": {"domain": [0.06, 0.18], "nice": false, "zero": false},
    "axis": {"orient": "right", "values": [0.06, 0.08, 0.1, 0.12, 0.14, 0.16, 0.18], "labels": false, "title": null, "tickSize": -10}}
  }},
 {"data": {"name": "lines"}, "transform": [{"filter": "datum.s !== 'dot' && datum.s !== 'dash'"}],
  "mark": {"type": "line", "color": "black", "strokeWidth": 2.8, "interpolate": "monotone"},
  "encoding": {
   "x": {"field": "x", "type": "quantitative", "scale": {"domain": [160, 195], "nice": false, "zero": false}, "axis": null},
   "y": {"field": "y", "type": "quantitative", "scale": {"domain": [0.06, 0.18], "nice": false, "zero": false}, "axis": null},
   "detail": {"field": "s"}
  }},
 {"data": {"name": "pts"},
  "mark": {"type": "circle", "color": "black", "size": 11, "opacity": 1},
  "encoding": {
   "x": {"field": "x", "type": "quantitative", "scale": {"domain": [160, 195], "nice": false, "zero": false}, "axis": null},
   "y": {"field": "y", "type": "quantitative", "scale": {"domain": [0.06, 0.18], "nice": false, "zero": false}, "axis": null}
  }}
],
"resolve": {"axis": {"x": "independent", "y": "independent"}}
}
